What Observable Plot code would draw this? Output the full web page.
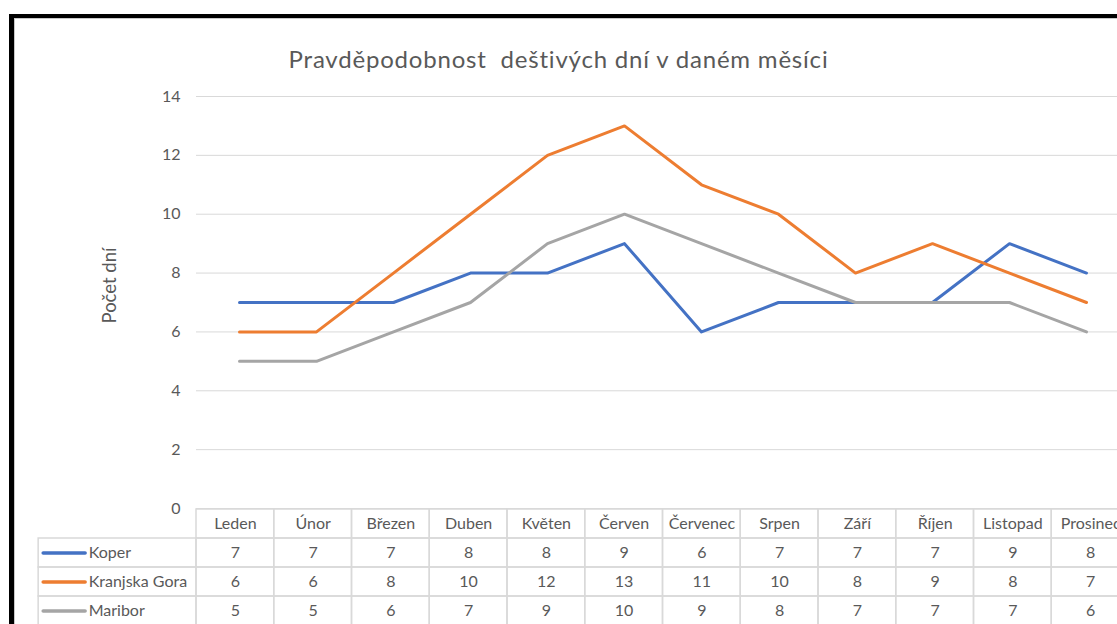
<!DOCTYPE html>
<html>
<head>
<meta charset="utf-8">
<script src="https://cdn.jsdelivr.net/npm/d3@7"></script>
<script src="https://cdn.jsdelivr.net/npm/@observablehq/plot@0.6"></script>
<style>
  html, body { margin: 0; padding: 0; background: #fff; }
  #wrap { position: relative; width: 1117px; height: 624px; overflow: hidden; background: #fff; font-family: Lato, "Open Sans", sans-serif; }
  #frame { position: absolute; left: 9px; top: 14px; width: 1200px; height: 700px; border-left: 5px solid #000; border-top: 4px solid #000; box-sizing: border-box; }
  #frame::after { content: ""; position: absolute; left: 0; top: 0; right: 0; bottom: 0; border-left: 1px solid #c8c8c8; border-top: 1px solid #c8c8c8; }
  #title { position: absolute; left: 0; width: 1117px; top: 44px; text-align: center; white-space: pre; font-size: 24px; letter-spacing: 0.8px; color: #595959; }
  #chart { position: absolute; left: 0; top: 0; }
  #table { position: absolute; left: 0; top: 509px; }
</style>
</head>
<body>
<div id="wrap">
  <div id="frame"></div>
  <div id="title">Pravděpodobnost  deštivých dní v daném měsíci</div>
  <div id="chart"></div>
  <div id="table"></div>
</div>
<script>
// ---- data ----
const months = ["Leden","Únor","Březen","Duben","Květen","Červen","Červenec","Srpen","Září","Říjen","Listopad","Prosinec"];
const seriesNames = ["Koper","Kranjska Gora","Maribor"];
const koper = [7,7,7,8,8,9,6,7,7,7,9,8];
const kranjskaGora = [6,6,8,10,12,13,11,10,8,9,8,7];
const maribor = [5,5,6,7,9,10,9,8,7,7,7,6];
const yTicks = [0,2,4,6,8,10,12,14];
const seriesColors = ["#4472C4","#ED7D31","#A5A5A5"];
const yLabel = "Počet dní";

const seriesValues = [koper, kranjskaGora, maribor];
const long = [];
seriesValues.forEach((vals, s) => vals.forEach((v, i) => long.push({series: seriesNames[s], month: months[i], value: v})));

const textColor = "#595959";
const gridColor = "#d9d9d9";
const font = "Lato, 'Open Sans', sans-serif";

const chart = Plot.plot({
  width: 1140, height: 530,
  marginLeft: 196, marginRight: 11, marginTop: 96, marginBottom: 22,
  style: {background: "transparent", fontFamily: font, maxWidth: "none", overflow: "visible"},
  x: {type: "point", domain: months, padding: 0.5, axis: null},
  y: {domain: [0, 14], axis: null},
  color: {domain: seriesNames, range: seriesColors},
  marks: [
    Plot.gridY(yTicks, {stroke: gridColor, strokeOpacity: 1, strokeWidth: 1}),
    Plot.axisY(yTicks, {tickSize: 0, tickPadding: 16, fontSize: 16, color: textColor, label: null}),
    Plot.text([yLabel], {frameAnchor: "left", textAnchor: "middle", dx: -86, dy: -17, rotate: -90, fontSize: 18.5, fill: textColor}),
    Plot.line(long, {x: "month", y: "value", z: "series", stroke: "series", strokeWidth: 3, strokeLinejoin: "round", strokeLinecap: "round"})
  ]
});
document.getElementById("chart").append(chart);

// ---- data table ----
const labelSpan = 2.03;   // label column width in month-column units
const cells = [];
months.forEach((m, i) => cells.push({c1: i, c2: i + 1, r: 0, text: m}));
seriesValues.forEach((vals, s) => vals.forEach((v, i) => cells.push({c1: i, c2: i + 1, r: s + 1, text: String(v)})));
const labelCells = seriesNames.map((n, s) => ({c1: -labelSpan, c2: 0, r: s + 1, text: n, series: n}));

const table = Plot.plot({
  width: 1140, height: 120,
  marginLeft: 196, marginRight: 11, marginTop: 0, marginBottom: 4,
  style: {background: "transparent", fontFamily: font, maxWidth: "none", overflow: "visible"},
  x: {type: "linear", domain: [0, 12], axis: null},
  y: {type: "linear", domain: [0, 4], reverse: true, axis: null},
  color: {domain: seriesNames, range: seriesColors},
  marks: [
    Plot.rect(cells.concat(labelCells), {x1: "c1", x2: "c2", y1: "r", y2: d => d.r + 1, fill: "none", stroke: gridColor, strokeWidth: 1.5}),
    Plot.text(cells, {x: d => (d.c1 + d.c2) / 2, y: d => d.r + 0.5, text: "text", fontSize: 16, fill: textColor}),
    Plot.ruleY(labelCells, {y: d => d.r + 0.5, x1: "c1", x2: d => d.c1 + 0.54, dx: 5, stroke: "series", strokeWidth: 3.5, strokeLinecap: "round"}),
    Plot.text(labelCells, {x: "c1", y: d => d.r + 0.5, text: "text", dx: 50, textAnchor: "start", fontSize: 16, fill: textColor})
  ]
});
document.getElementById("table").append(table);
</script>
</body>
</html>
